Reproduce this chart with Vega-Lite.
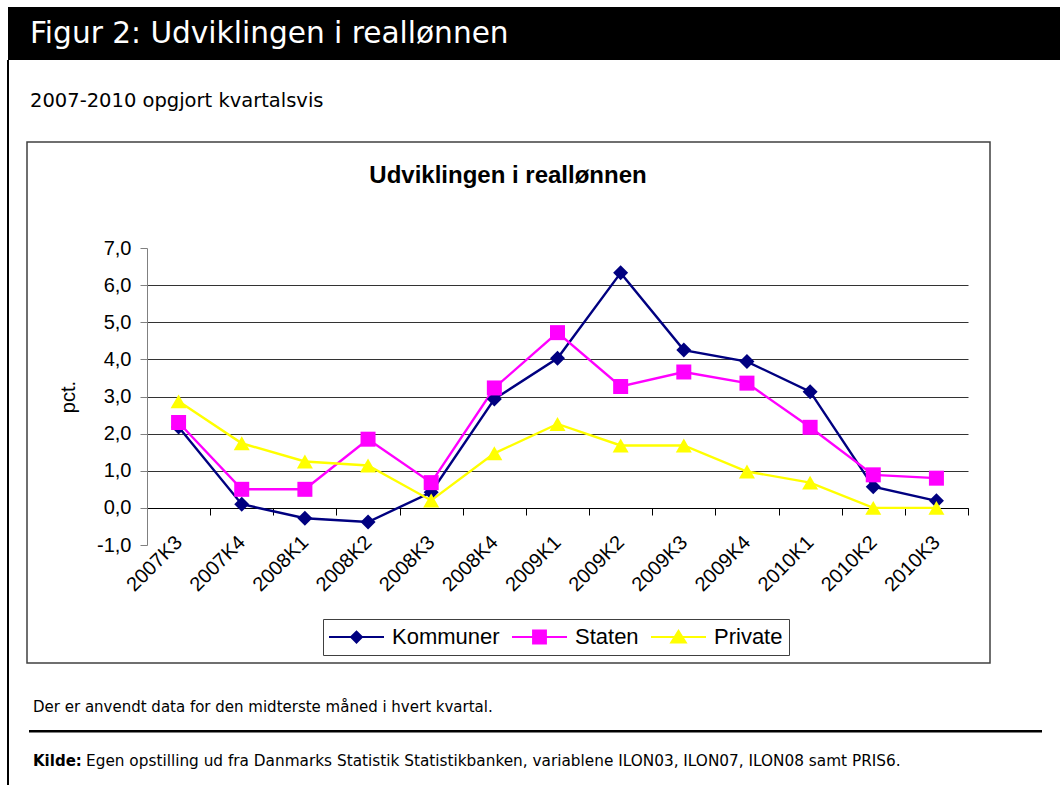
{
  "$schema": "https://vega.github.io/schema/vega-lite/v6.json",
  "width": 821,
  "height": 297,
  "autosize": "none",
  "padding": {"left": 147, "top": 248, "right": 92, "bottom": 240},
  "background": "white",
  "config": {
    "font": "Liberation Sans",
    "view": {"stroke": null},
    "legend": {
      "orient": "none", "legendX": 176, "legendY": 371, "direction": "horizontal",
      "strokeColor": "#404040", "padding": 6, "symbolSize": 3025, "clipHeight": 24,
      "labelFontSize": 22, "labelFont": "Liberation Sans", "labelColor": "#000000", "labelOffset": 8,
      "columnPadding": 12, "symbolStrokeWidth": 0, "symbolOpacity": 1
    }
  },
  "data": {"values": [
    {"kvartal": "2007K3", "serie": "Kommuner", "pct": 2.18},
    {"kvartal": "2007K4", "serie": "Kommuner", "pct": 0.1},
    {"kvartal": "2008K1", "serie": "Kommuner", "pct": -0.28},
    {"kvartal": "2008K2", "serie": "Kommuner", "pct": -0.38},
    {"kvartal": "2008K3", "serie": "Kommuner", "pct": 0.42},
    {"kvartal": "2008K4", "serie": "Kommuner", "pct": 2.93},
    {"kvartal": "2009K1", "serie": "Kommuner", "pct": 4.03},
    {"kvartal": "2009K2", "serie": "Kommuner", "pct": 6.33},
    {"kvartal": "2009K3", "serie": "Kommuner", "pct": 4.25},
    {"kvartal": "2009K4", "serie": "Kommuner", "pct": 3.94},
    {"kvartal": "2010K1", "serie": "Kommuner", "pct": 3.13},
    {"kvartal": "2010K2", "serie": "Kommuner", "pct": 0.57},
    {"kvartal": "2010K3", "serie": "Kommuner", "pct": 0.19},
    {"kvartal": "2007K3", "serie": "Staten", "pct": 2.3},
    {"kvartal": "2007K4", "serie": "Staten", "pct": 0.5},
    {"kvartal": "2008K1", "serie": "Staten", "pct": 0.5},
    {"kvartal": "2008K2", "serie": "Staten", "pct": 1.85},
    {"kvartal": "2008K3", "serie": "Staten", "pct": 0.68},
    {"kvartal": "2008K4", "serie": "Staten", "pct": 3.23},
    {"kvartal": "2009K1", "serie": "Staten", "pct": 4.72},
    {"kvartal": "2009K2", "serie": "Staten", "pct": 3.27},
    {"kvartal": "2009K3", "serie": "Staten", "pct": 3.66},
    {"kvartal": "2009K4", "serie": "Staten", "pct": 3.36},
    {"kvartal": "2010K1", "serie": "Staten", "pct": 2.17},
    {"kvartal": "2010K2", "serie": "Staten", "pct": 0.89},
    {"kvartal": "2010K3", "serie": "Staten", "pct": 0.8},
    {"kvartal": "2007K3", "serie": "Private", "pct": 2.87},
    {"kvartal": "2007K4", "serie": "Private", "pct": 1.74},
    {"kvartal": "2008K1", "serie": "Private", "pct": 1.25},
    {"kvartal": "2008K2", "serie": "Private", "pct": 1.14},
    {"kvartal": "2008K3", "serie": "Private", "pct": 0.2},
    {"kvartal": "2008K4", "serie": "Private", "pct": 1.47},
    {"kvartal": "2009K1", "serie": "Private", "pct": 2.26},
    {"kvartal": "2009K2", "serie": "Private", "pct": 1.68},
    {"kvartal": "2009K3", "serie": "Private", "pct": 1.68},
    {"kvartal": "2009K4", "serie": "Private", "pct": 0.98},
    {"kvartal": "2010K1", "serie": "Private", "pct": 0.68},
    {"kvartal": "2010K2", "serie": "Private", "pct": 0.0},
    {"kvartal": "2010K3", "serie": "Private", "pct": 0.0}
  ]},
  "layer": [
    {
      "data": {"values": [{"a": 1}]},
      "mark": {"type": "rect", "fill": "#000000", "x": -139, "x2": 913, "y": -241, "y2": -188},
      "encoding": {}
    },
    {
      "data": {"values": [{"t": "Figur 2: Udviklingen i reallønnen"}]},
      "mark": {"type": "text", "font": "DejaVu Sans", "fontSize": 29.6, "color": "#ffffff", "align": "left", "baseline": "alphabetic", "x": -117, "y": -205},
      "encoding": {"text": {"field": "t"}}
    },
    {
      "data": {"values": [{"a": 1}]},
      "mark": {"type": "rect", "fill": "#000000", "x": -140, "x2": -138, "y": -188, "y2": 537},
      "encoding": {}
    },
    {
      "data": {"values": [{"t": "2007-2010 opgjort kvartalsvis"}]},
      "mark": {"type": "text", "font": "DejaVu Sans", "fontSize": 19.5, "color": "#000000", "align": "left", "baseline": "alphabetic", "x": -117, "y": -141},
      "encoding": {"text": {"field": "t"}}
    },
    {
      "data": {"values": [{"a": 1}]},
      "mark": {"type": "rect", "fill": null, "stroke": "#404040", "strokeWidth": 1.5, "x": -120, "x2": 843, "y": -106, "y2": 415},
      "encoding": {}
    },
    {
      "data": {"values": [{"t": "Udviklingen i reallønnen"}]},
      "mark": {"type": "text", "font": "Liberation Sans", "fontSize": 24, "fontWeight": "bold", "color": "#000000", "align": "center", "baseline": "alphabetic", "x": 361, "y": -65},
      "encoding": {"text": {"field": "t"}}
    },
    {
      "data": {"values": [{"t": "Der er anvendt data for den midterste måned i hvert kvartal."}]},
      "mark": {"type": "text", "font": "DejaVu Sans", "fontSize": 15, "color": "#000000", "align": "left", "baseline": "alphabetic", "x": -114, "y": 464},
      "encoding": {"text": {"field": "t"}}
    },
    {
      "data": {"values": [{"a": 1}]},
      "mark": {"type": "rect", "fill": "#000000", "x": -118, "x2": 895, "y": 482, "y2": 484.5},
      "encoding": {}
    },
    {
      "data": {"values": [{"t": "Kilde:"}]},
      "mark": {"type": "text", "font": "DejaVu Sans", "fontSize": 15, "fontWeight": "bold", "color": "#000000", "align": "left", "baseline": "alphabetic", "x": -114, "y": 518},
      "encoding": {"text": {"field": "t"}}
    },
    {
      "data": {"values": [{"t": "Egen opstilling ud fra Danmarks Statistik Statistikbanken, variablene ILON03, ILON07, ILON08 samt PRIS6."}]},
      "mark": {"type": "text", "font": "DejaVu Sans", "fontSize": 15.3, "color": "#000000", "align": "left", "baseline": "alphabetic", "x": -61, "y": 518},
      "encoding": {"text": {"field": "t"}}
    },
    {
      "mark": {"type": "line", "strokeWidth": 2.4},
      "encoding": {
        "x": {
          "field": "kvartal", "type": "ordinal",
          "scale": {"type": "band", "paddingInner": 0, "paddingOuter": 0},
          "axis": {
            "title": null, "tickBand": "extent", "offset": -37,
            "domainColor": "#000000", "tickColor": "#000000", "tickSize": 7,
            "labelAngle": -45, "labelFontSize": 20, "labelFont": "Liberation Sans", "labelColor": "#000000",
            "labelPadding": 24, "labelAlign": "right", "labelBaseline": "middle", "grid": false
          }
        },
        "y": {
          "field": "pct", "type": "quantitative",
          "scale": {"domain": [-1, 7], "nice": false, "zero": false},
          "axis": {
            "values": [-1, 0, 1, 2, 3, 4, 5, 6, 7], "tickCount": 9,
            "labelExpr": "(datum.value < 0 ? '-' : '') + replace(format(abs(datum.value), '.1f'), '.', ',')",
            "labelFontSize": 20, "labelFont": "Liberation Sans", "labelColor": "#000000", "labelPadding": 9,
            "tickSize": 7, "tickColor": "#808080", "domainColor": "#808080",
            "grid": true,
            "gridColor": {"condition": {"test": "datum.value == 0", "value": "#000000"}, "value": "#333333"},
            "gridOpacity": {"condition": {"test": "datum.value == 7 || datum.value == -1", "value": 0}, "value": 1},
            "title": "pct.", "titleFont": "Liberation Sans", "titleFontSize": 20, "titleFontWeight": "normal", "titleColor": "#000000",
            "titleAngle": -90, "titleX": -73, "titleY": 148.5, "titleAlign": "center", "titleBaseline": "alphabetic"
          }
        },
        "color": {
          "field": "serie", "type": "nominal",
          "scale": {"domain": ["Kommuner", "Staten", "Private"], "range": ["#000080", "#FF00FF", "#FFFF00"]},
          "legend": {"title": null}
        }
      }
    },
    {
      "transform": [{"filter": "false"}],
      "mark": {"type": "point", "filled": true, "opacity": 1},
      "encoding": {
        "x": {"field": "kvartal", "type": "ordinal"},
        "y": {"field": "pct", "type": "quantitative"},
        "color": {"field": "serie", "type": "nominal", "legend": {"title": null}},
        "shape": {
          "field": "serie", "type": "nominal",
          "scale": {"domain": ["Kommuner", "Staten", "Private"], "range": [
            "M-1,-0.04H1V0.04H-1ZM0,-0.25L0.25,0L0,0.25L-0.25,0Z",
            "M-1,-0.04H1V0.04H-1ZM-0.27,-0.27H0.27V0.27H-0.27Z",
            "M-1,-0.04H1V0.04H-1ZM0,-0.29L0.33,0.24H-0.33Z"
          ]},
          "legend": {"title": null}
        }
      }
    },
    {
      "transform": [{"filter": "datum.serie == 'Kommuner'"}],
      "mark": {"type": "point", "filled": true, "opacity": 1, "shape": "diamond", "size": 225, "strokeWidth": 1},
      "encoding": {
        "x": {"field": "kvartal", "type": "ordinal"},
        "y": {"field": "pct", "type": "quantitative"},
        "color": {"field": "serie", "type": "nominal", "legend": {"title": null}}
      }
    },
    {
      "transform": [{"filter": "datum.serie == 'Staten'"}],
      "mark": {"type": "point", "filled": true, "opacity": 1, "shape": "square", "size": 225, "strokeWidth": 1},
      "encoding": {
        "x": {"field": "kvartal", "type": "ordinal"},
        "y": {"field": "pct", "type": "quantitative"},
        "color": {"field": "serie", "type": "nominal", "legend": {"title": null}}
      }
    },
    {
      "transform": [{"filter": "datum.serie == 'Private'"}],
      "mark": {"type": "point", "filled": true, "opacity": 1, "shape": "triangle-up", "size": 256, "strokeWidth": 1},
      "encoding": {
        "x": {"field": "kvartal", "type": "ordinal"},
        "y": {"field": "pct", "type": "quantitative"},
        "color": {"field": "serie", "type": "nominal", "legend": {"title": null}}
      }
    }
  ]
}
